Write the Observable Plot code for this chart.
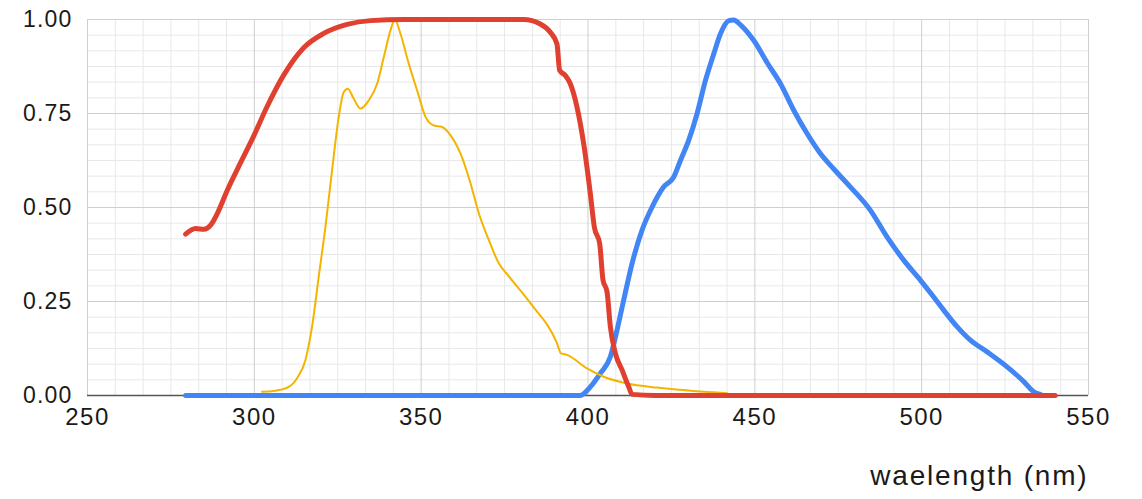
<!DOCTYPE html>
<html>
<head>
<meta charset="utf-8">
<script src="https://cdn.jsdelivr.net/npm/d3@7"></script>
<script src="https://cdn.jsdelivr.net/npm/@observablehq/plot@0.6"></script>
<style>
  html, body { margin: 0; padding: 0; background: #fff; }
  #chart svg { display: block; }
  #chart g[aria-label="x-axis tick label"] text { letter-spacing: 1.5px; }
  #chart g[aria-label="y-axis tick label"] text { letter-spacing: 1.2px; }
  #chart g[aria-label="text"] text { letter-spacing: 1.8px; }
</style>
</head>
<body>
<div id="chart"></div>
<script>
// Red series (filter transmission)
const redNm  = [279.4, 282.4, 284.9, 286.9, 288.9, 291.9, 295.8, 299.8, 303.8, 308.8, 314.8, 320.8, 327.8, 334.8, 345, 360, 380.7, 385.7, 388.7, 390.7, 391.5, 393.2, 394.7, 396.7, 398.7, 400.7, 401.9, 403.5, 404.5, 405.7, 406.7, 408.2, 410.2, 412.2, 413.2, 420, 450, 500, 540];
const redVal = [0.429, 0.444, 0.442, 0.453, 0.484, 0.546, 0.618, 0.690, 0.768, 0.852, 0.925, 0.963, 0.987, 0.997, 1.0, 1.0, 1.0, 0.988, 0.966, 0.935, 0.865, 0.851, 0.829, 0.767, 0.670, 0.537, 0.448, 0.404, 0.307, 0.276, 0.183, 0.112, 0.068, 0.023, 0.003, 0, 0, 0, 0];

// Yellow series (excitation)
const yellowNm  = [302.3, 305.8, 310.3, 312.8, 315.3, 317.3, 319.3, 321.3, 323.3, 325.3, 326.8, 328.0, 329.8, 331.8, 334.3, 336.8, 338.8, 340.8, 342.1, 343.8, 346.3, 348.8, 351.3, 353.8, 356.3, 358.8, 361.8, 364.8, 367.3, 370.3, 373.3, 376.0, 382.8, 390.7, 391.9, 393.7, 399.7, 404.7, 411.7, 420.7, 427.7, 431.7, 441.7];
const yellowVal = [0.010, 0.012, 0.023, 0.046, 0.094, 0.183, 0.316, 0.448, 0.599, 0.741, 0.807, 0.816, 0.789, 0.763, 0.785, 0.829, 0.900, 0.971, 1.0, 0.962, 0.882, 0.811, 0.741, 0.718, 0.714, 0.692, 0.643, 0.564, 0.484, 0.413, 0.351, 0.320, 0.245, 0.139, 0.112, 0.108, 0.072, 0.050, 0.032, 0.021, 0.015, 0.012, 0.006];

// Blue series (emission)
const blueNm  = [279.4, 320, 360, 397.7, 400.7, 403.7, 406.7, 408.7, 410.7, 413.2, 416.2, 419.2, 422.7, 425.7, 427.7, 430.2, 432.7, 435.2, 437.7, 439.7, 442.2, 443.7, 445.7, 449.7, 453.7, 457.7, 461.7, 465.7, 469.7, 473.6, 478.6, 484.6, 489.6, 494.6, 499.6, 503.6, 506.6, 510.6, 514.6, 519.6, 525.6, 530.6, 533.6, 535.6];
const blueVal = [0, 0, 0, 0, 0.023, 0.059, 0.103, 0.174, 0.254, 0.351, 0.440, 0.501, 0.555, 0.581, 0.625, 0.679, 0.750, 0.838, 0.909, 0.962, 0.997, 0.999, 0.986, 0.944, 0.885, 0.829, 0.758, 0.696, 0.643, 0.603, 0.555, 0.493, 0.422, 0.360, 0.307, 0.262, 0.227, 0.183, 0.147, 0.116, 0.076, 0.037, 0.010, 0.003];

const xTicks = [250, 300, 350, 400, 450, 500, 550];
const yTicks = [0, 0.25, 0.5, 0.75, 1.0];
const axisTitle = "waelength (nm)";

const toRows = (xs, ys) => xs.map((x, i) => ({x, y: ys[i]}));
const red = toRows(redNm, redVal);
const yellow = toRows(yellowNm, yellowVal);
const blue = toRows(blueNm, blueVal);

const minorX = d3.range(0, 37).map(i => 250 + i * 50 / 6).filter((v, i) => i % 6 !== 0);
const minorY = d3.range(0, 25).map(i => i / 24).filter((v, i) => i % 6 !== 0);

const chart = Plot.plot({
  width: 1142,
  height: 499,
  marginLeft: 87,
  marginRight: 54,
  marginTop: 19,
  marginBottom: 104,
  style: {fontFamily: "'Liberation Sans', Arial, sans-serif", color: "#1a1a1a", background: "#fff"},
  x: {domain: [250, 550], ticks: xTicks, tickSize: 0, tickPadding: 12, label: null},
  y: {domain: [0, 1], ticks: yTicks, tickSize: 0, tickPadding: 15, label: null, tickFormat: d3.format(".2f")},
  marks: [
    Plot.ruleX(minorX, {stroke: "#e8e8e8", strokeWidth: 1}),
    Plot.ruleY(minorY, {stroke: "#e8e8e8", strokeWidth: 1}),
    Plot.ruleX(xTicks, {stroke: "#cfcfcf", strokeWidth: 1}),
    Plot.ruleY(yTicks.filter(d => d > 0), {stroke: "#cfcfcf", strokeWidth: 1}),
    Plot.ruleY([0], {stroke: "#555", strokeWidth: 1.5}),
    Plot.axisX({ticks: xTicks, tickSize: 0, tickPadding: 12, fontSize: 24, label: null}),
    Plot.axisY({ticks: yTicks, tickSize: 0, tickPadding: 15, fontSize: 23, label: null, tickFormat: d3.format(".2f")}),
    Plot.line(blue, {x: "x", y: "y", stroke: "#4285f4", strokeWidth: 5, curve: "monotone-x"}),
    Plot.line(yellow, {x: "x", y: "y", stroke: "#f4b400", strokeWidth: 2, curve: "monotone-x"}),
    Plot.line(red, {x: "x", y: "y", stroke: "#e0402f", strokeWidth: 5, curve: "monotone-x"}),
    Plot.text([axisTitle], {frameAnchor: "bottom-right", dy: 89, textAnchor: "end", fontSize: 28, fill: "#1a1a1a"})
  ]
});
document.getElementById("chart").appendChild(chart);
</script>
</body>
</html>
